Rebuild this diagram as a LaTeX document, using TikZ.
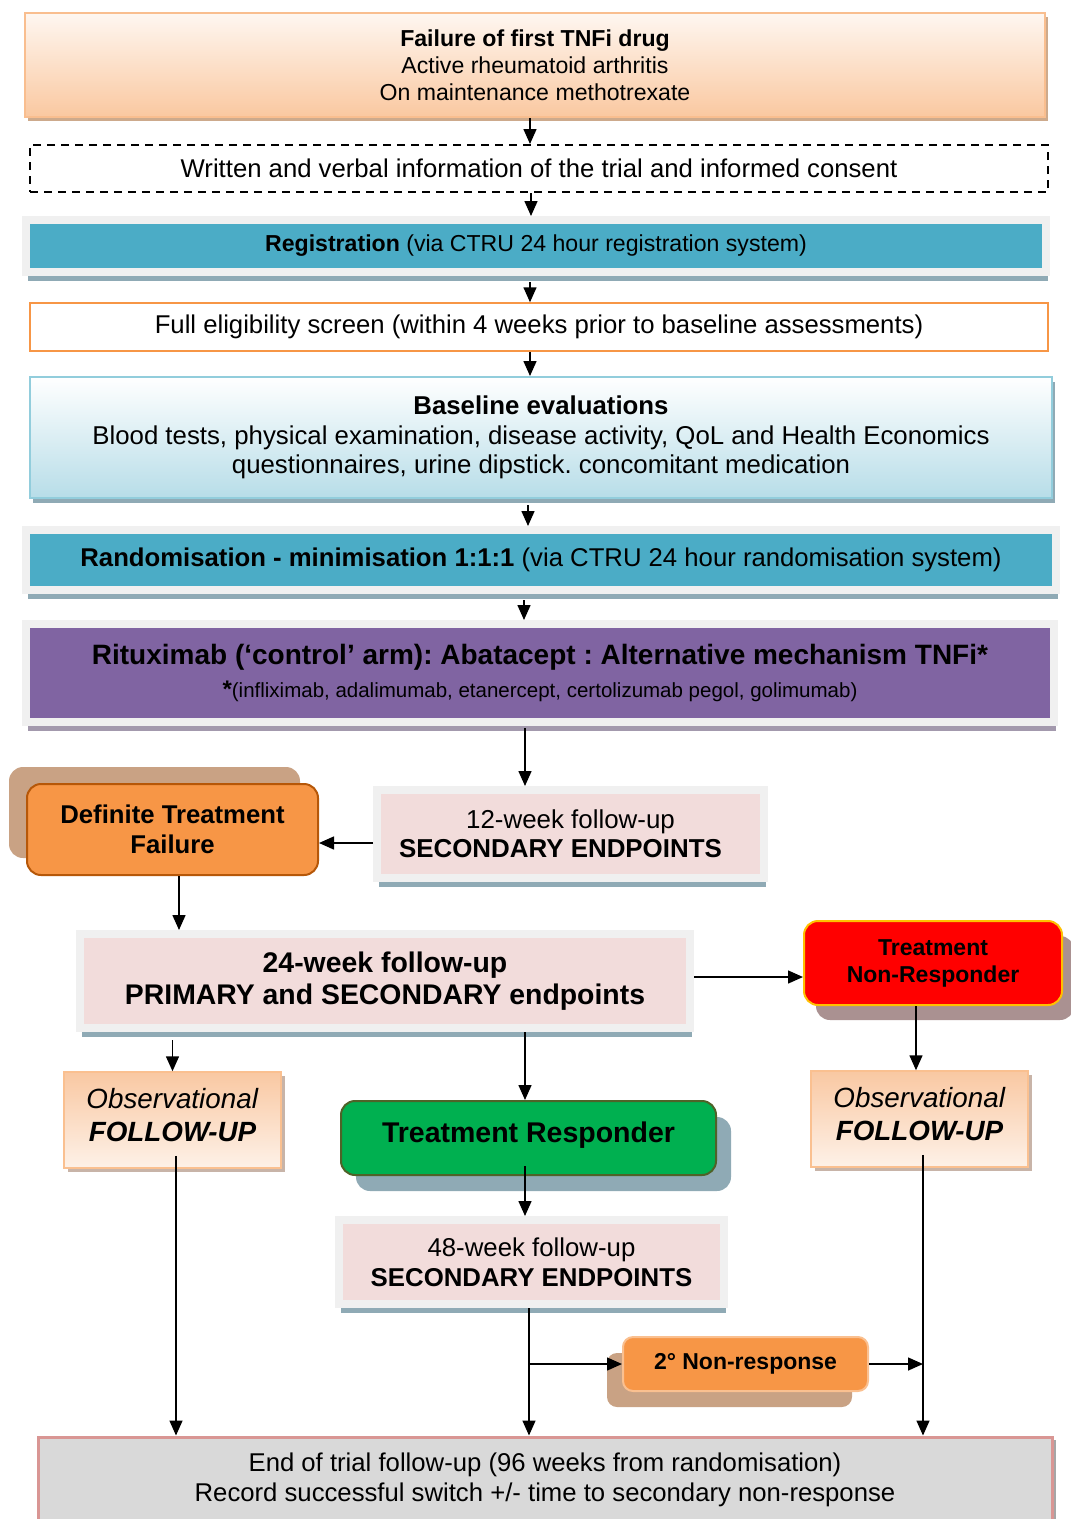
\documentclass[tikz,border=0pt]{standalone}
\usepackage{fontspec}
\setmainfont{Liberation Sans}
\usepackage{tikz}
\usetikzlibrary{positioning}
\usetikzlibrary{shapes,arrows.meta,shadows}

\definecolor{framegray}{RGB}{240,240,240}
\definecolor{shadowblue}{RGB}{143,170,181}
\definecolor{tealfill}{RGB}{75,172,198}
\definecolor{purplefill}{RGB}{128,100,162}
\definecolor{purpleshadow}{RGB}{163,153,173}
\definecolor{pinkfill}{RGB}{242,220,219}
\definecolor{orangefill}{RGB}{247,150,70}
\definecolor{dtfborder}{RGB}{182,87,8}
\definecolor{tanshadow}{RGB}{201,162,132}
\definecolor{nrshadow}{RGB}{170,145,145}
\definecolor{tnrborder}{RGB}{255,192,0}
\definecolor{greenfill}{RGB}{0,176,80}
\definecolor{trborder}{RGB}{79,98,40}
\definecolor{nrborder}{RGB}{250,192,144}
\definecolor{endfill}{RGB}{217,217,217}
\definecolor{endborder}{RGB}{217,150,148}
\definecolor{endshadow}{RGB}{166,166,166}
\definecolor{topfill}{RGB}{250,200,160}
\definecolor{topborder}{RGB}{249,190,143}
\definecolor{topshadow}{RGB}{205,170,140}
\definecolor{baseborder}{RGB}{146,205,220}
\definecolor{basefill}{RGB}{183,221,232}
\definecolor{obsfill}{RGB}{249,200,162}
\definecolor{obsborder}{RGB}{250,192,144}
\definecolor{obsshadow}{RGB}{200,180,168}

\newcommand{\boxfont}[2]{\fontsize{#1}{#2}\selectfont}

\begin{document}
\frenchspacing
\begin{tikzpicture}[x=1pt, y=-1pt, >={Triangle[length=15pt,width=13pt]},
	conn/.style={->, line width=1.5pt},
	framebox/.style={draw=framegray, line width=8pt, general shadow={fill=#1, shadow xshift=2pt, shadow yshift=-9pt}},
	roundbox/.style={rounded corners=14pt, line width=2pt},
	obsbox/.style={draw=obsborder, line width=1.5pt, top color=obsfill, bottom color=obsfill!25,
		general shadow={fill=obsshadow, shadow xshift=4pt, shadow yshift=-4pt},
		minimum width=217pt, minimum height=96pt, text depth=10pt, align=center, font=\boxfont{27.8}{33}}]
		\useasboundingbox (0,0) rectangle (1071,1519);

		% Failure of first TNFi drug
		\node (fail) at (535,65) [draw=topborder, line width=2pt, top color=topfill!15, bottom color=topfill,
			general shadow={fill=topshadow, shadow xshift=3pt, shadow yshift=-4pt},
			minimum width=1020pt, minimum height=104pt, align=center, font=\boxfont{23.1}{27}]
			{\textbf{Failure of first TNFi drug}\\Active rheumatoid arthritis\\On maintenance methotrexate};

		% Consent
		\node (consent) at (539,168.5) [draw, line width=2pt, dash pattern=on 8pt off 6pt,
			minimum width=1018pt, minimum height=47pt, font=\boxfont{25.7}{30}]
			{Written and verbal information of the trial and informed consent};

		% Registration
		\node (reg) at (536,246) [framebox=shadowblue, fill=tealfill, minimum width=1020pt, minimum height=52pt, font=\boxfont{23.1}{28}]
			{\textbf{Registration} (via CTRU 24 hour registration system)};

		% Eligibility
		\node (elig) at (539,327) [draw=orangefill, line width=1.5pt, fill=white,
			minimum width=1018pt, minimum height=48pt, font=\boxfont{25.7}{30}]
			{Full eligibility screen (within 4 weeks prior to baseline assessments)};

		% Baseline
		\node (base) at (541,437.5) [draw=baseborder, line width=2pt, top color=white, bottom color=basefill,
			general shadow={fill=shadowblue, shadow xshift=3pt, shadow yshift=-5pt},
			minimum width=1022pt, minimum height=121pt, align=center, font=\boxfont{25.8}{29.5}]
			{\textbf{Baseline evaluations}\\Blood tests, physical examination, disease activity, QoL and Health Economics\\questionnaires, urine dipstick. concomitant medication};

		% Randomisation
		\node (rand) at (541,560) [framebox=shadowblue, fill=tealfill, minimum width=1030pt, minimum height=60pt, font=\boxfont{25.7}{30}]
			{\textbf{Randomisation - minimisation 1:1:1} (via CTRU 24 hour randomisation system)};

		% Arms
		\node (arms) at (540,673) [framebox=purpleshadow, fill=purplefill, minimum width=1028pt, minimum height=98pt,
			align=center, font=\boxfont{28}{33}]
			{\textbf{Rituximab (‘control’ arm): Abatacept : Alternative mechanism TNFi*}\\{\boxfont{20.5}{24}{\boxfont{24}{24}\textbf{*}}(infliximab, adalimumab, etanercept, certolizumab pegol, golimumab)}};

		% 12 weeks
		\node (wk12) at (570.5,834) [framebox=shadowblue, fill=pinkfill, minimum width=387pt, minimum height=88pt,
			align=center, font=\boxfont{25.9}{29}]
			{12-week follow-up\\\textbf{SECONDARY ENDPOINTS}\hspace*{20pt}};

		% Definite treatment failure
		\node (dtf) at (172.5,829.5) [roundbox, draw=dtfborder, fill=orangefill,
			general shadow={fill=tanshadow, shadow xshift=-18pt, shadow yshift=17pt},
			minimum width=291pt, minimum height=91pt, align=center, font=\boxfont{25.7}{30}\bfseries]
			{Definite Treatment\\Failure};

		% 24 weeks
		\node (wk24) at (385,981) [framebox=shadowblue, fill=pinkfill, minimum width=610pt, minimum height=94pt,
			align=center, font=\boxfont{28.4}{32}\bfseries]
			{24-week follow-up\\PRIMARY and SECONDARY endpoints};

		% Non-responder
		\node (tnr) at (933,963) [roundbox, draw=tnrborder, fill=red,
			general shadow={fill=nrshadow, shadow xshift=12pt, shadow yshift=-15pt},
			minimum width=258pt, minimum height=84pt, align=center, font=\boxfont{23}{27}\bfseries]
			{Treatment\\Non-Responder};

		% Observational follow-up
		\node (obsL) at (172.5,1120) [obsbox] {\textit{Observational}\\\textbf{\textit{FOLLOW-UP}}};
		\node (obsR) at (919.5,1119) [obsbox] {\textit{Observational}\\\textbf{\textit{FOLLOW-UP}}};

		% Responder
		\node (tr) at (528.5,1138) [roundbox, draw=trborder, fill=greenfill,
			general shadow={fill=shadowblue, shadow xshift=15pt, shadow yshift=-16pt},
			minimum width=375pt, minimum height=74pt, text depth=12pt, font=\boxfont{28.5}{33}\bfseries]
			{Treatment Responder};

		% 48 weeks
		\node (wk48) at (531.5,1262) [framebox=shadowblue, fill=pinkfill, minimum width=385pt, minimum height=84pt,
			align=center, font=\boxfont{25.8}{30}]
			{48-week follow-up\\\textbf{SECONDARY ENDPOINTS}};

		% Secondary non-response
		\node (nonresp) at (745.5,1364) [roundbox, rounded corners=10pt, draw=nrborder, fill=orangefill,
			general shadow={fill=tanshadow, shadow xshift=-16pt, shadow yshift=-16pt},
			minimum width=245pt, minimum height=54pt, font=\boxfont{23}{28}\bfseries]
			{2° Non-response};

		% End of trial
		\node (trialend) at (545,1480) [draw=endborder, line width=3pt, fill=endfill,
			general shadow={fill=endshadow, shadow xshift=4pt, shadow yshift=-3pt},
			minimum width=1014pt, minimum height=86pt, align=center, font=\boxfont{25.7}{30}]
			{End of trial follow-up (96 weeks from randomisation)\\Record successful switch +/- time to secondary non-response};

		% Main column
		\draw[conn] ([xshift=-5pt]fail.south) -- ([xshift=-9pt]consent.north);
		\draw[conn] ([xshift=-8pt]consent.south) -- ([xshift=-5pt]reg.north);
		\draw[conn] ([xshift=-6pt,yshift=-6pt]reg.south) -- ([xshift=-9pt]elig.north);
		\draw[conn] ([xshift=-9pt]elig.south) -- ([xshift=-11pt]base.north);
		\draw[conn] ([xshift=-13pt,yshift=-6pt]base.south) -- ([xshift=-13pt]rand.north);
		\draw[conn] ([xshift=-17pt,yshift=-6pt]rand.south) -- ([xshift=-16pt]arms.north);
		\draw[conn] ([xshift=-15pt,yshift=-2pt]arms.south) -- ([xshift=-45.5pt]wk12.north);

		% 12 weeks to failure to 24 weeks
		\draw[conn] ([yshift=-9pt]wk12.west) -- ([yshift=-9pt]wk12.west -| dtf.east);
		\draw[conn] ([xshift=6.5pt]dtf.south) -- ([xshift=6.5pt]dtf.south |- wk24.north);

		% 24 weeks outcomes
		\draw[conn] ([yshift=4pt]wk24.east) -- ([yshift=4pt]wk24.east -| tnr.west);
		\draw[conn] ([xshift=-17pt]tnr.south) -- ([xshift=-17pt]tnr.south |- obsR.north);
		\draw[conn] ([yshift=-8pt]obsL.north |- wk24.south) -- (obsL.north);
		\draw[conn] ([xshift=-3.5pt]tr.north |- wk24.south) -- ([xshift=-3.5pt]tr.north);
		\draw[conn] ([xshift=-3.5pt,yshift=10pt]tr.south) -- ([xshift=-3.5pt]tr.south |- wk48.north);

		% To end of trial
		\coordinate (split) at ([xshift=-2.5pt]wk48.south |- nonresp.west);
		\coordinate (rjoin) at ([xshift=3.5pt]obsR.south |- nonresp.east);
		\draw[conn] ([xshift=-2.5pt]wk48.south) -- ([xshift=-2.5pt]wk48.south |- trialend.north);
		\draw[conn] (split) -- (nonresp.west);
		\draw[conn] (nonresp.east) -- (rjoin);
		\draw[conn] ([xshift=3.5pt,yshift=13pt]obsR.south) -- ([xshift=3.5pt]obsR.south |- trialend.north);
		\draw[conn] ([xshift=3.5pt,yshift=13pt]obsL.south) -- ([xshift=3.5pt]obsL.south |- trialend.north);
	\end{tikzpicture}
\end{document}
